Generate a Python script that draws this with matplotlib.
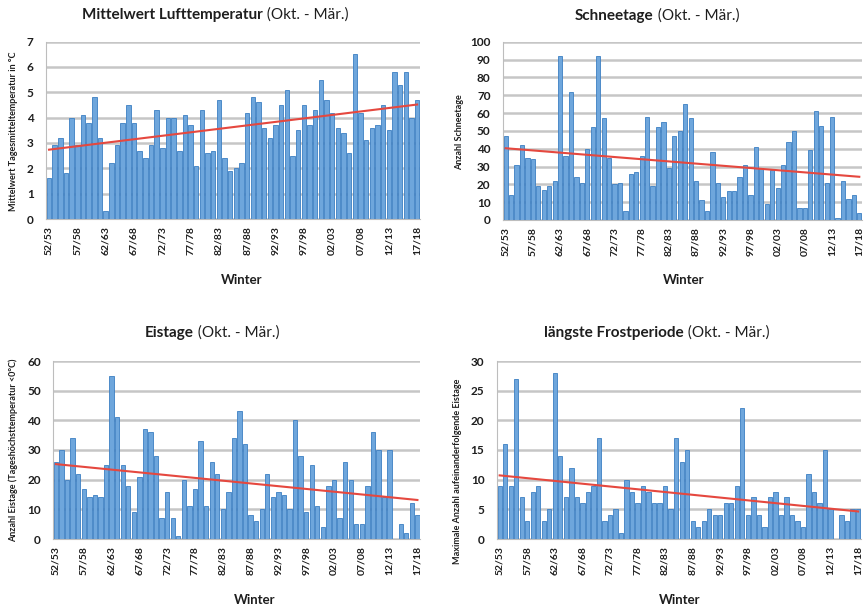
import numpy as np
import matplotlib
matplotlib.use("Agg")
import matplotlib.pyplot as plt

plt.rcParams["font.family"] = ["Lato", "DejaVu Sans"]

# Winter 52/53 ... 17/18
start_years = list(range(1952, 2018))
winters = [f"{y % 100:02d}/{(y + 1) % 100:02d}" for y in start_years]

# Mittelwert Lufttemperatur (Okt. - Mär.) in °C
temp = [1.6, 2.9, 3.2, 1.8, 4.0, 2.9, 4.1, 3.8, 4.8, 3.2,
        0.3, 2.2, 2.9, 3.8, 4.5, 3.8, 2.7, 2.4, 2.9, 4.3,
        2.8, 4.0, 4.0, 2.7, 4.1, 3.7, 2.1, 4.3, 2.6, 2.7,
        4.7, 2.4, 1.9, 2.0, 2.2, 4.2, 4.8, 4.6, 3.6, 3.2,
        3.7, 4.5, 5.1, 2.5, 3.5, 4.5, 3.7, 4.3, 5.5, 4.7,
        4.2, 3.6, 3.4, 2.6, 6.5, 4.2, 3.1, 3.6, 3.7, 4.5,
        3.5, 5.8, 5.3, 5.8, 4.0, 4.7]

# Schneetage (Okt. - Mär.)
schnee = [47, 14, 31, 42, 35, 34, 19, 17, 19, 22,
          92, 36, 72, 24, 21, 40, 52, 92, 57, 35,
          20, 21, 5, 26, 27, 36, 58, 19, 52, 55,
          29, 47, 50, 65, 57, 22, 11, 5, 38, 21,
          13, 16, 16, 24, 31, 14, 41, 29, 9, 28,
          18, 31, 44, 50, 7, 7, 39, 61, 53, 21,
          58, 1, 22, 12, 14, 4]

# Eistage (Okt. - Mär.)
eis = [26, 30, 20, 34, 22, 17, 14, 15, 14, 25,
       55, 41, 25, 18, 9, 21, 37, 36, 28, 7,
       16, 7, 1, 20, 11, 17, 33, 11, 26, 22,
       10, 16, 34, 43, 32, 8, 6, 10, 22, 14,
       16, 15, 10, 40, 28, 9, 25, 11, 4, 18,
       20, 7, 26, 20, 5, 5, 18, 36, 30, 14,
       30, 0, 5, 2, 12, 8]

# längste Frostperiode (Okt. - Mär.)
frost = [9, 16, 9, 27, 7, 3, 8, 9, 3, 5,
         28, 14, 7, 12, 7, 6, 8, 9, 17, 3,
         4, 5, 1, 10, 8, 6, 9, 8, 6, 6,
         9, 5, 17, 13, 15, 3, 2, 3, 5, 4,
         4, 6, 6, 9, 22, 4, 7, 4, 2, 7,
         8, 4, 7, 4, 3, 2, 11, 8, 6, 15,
         5, 0, 4, 3, 5, 5]

W, H = 866, 606
BAR = "#6ea6dc"
EDGE = "#3c7fc2"
GRID = "#c6c6c6"
TREND = "#e5483f"
TXT = "#1e1e1e"

fig = plt.figure(figsize=(W / 100, H / 100), dpi=100)
renderer = fig.canvas.get_renderer()


def px(x, y):
    return x / W, 1 - y / H


def mixed_title(xc, yc, bold, rest, size=11):
    t1 = fig.text(0, 0, bold, weight="bold", size=size, va="center", color=TXT)
    t2 = fig.text(0, 0, " " + rest, size=size, va="center", color=TXT)
    w1 = t1.get_window_extent(renderer).width
    w2 = t2.get_window_extent(renderer).width
    x0 = xc - (w1 + w2) / 2
    t1.set_position(px(x0, yc))
    t2.set_position(px(x0 + w1, yc))


def panel(rect, vals, ymax, ystep, ylabel, ylab_xy, winter_xy):
    ax = fig.add_axes(rect)
    x = np.arange(len(vals))
    ax.bar(x, vals, width=0.78, color=BAR, edgecolor=EDGE, linewidth=0.6, zorder=2)
    # lineare Trendlinie
    k, d = np.polyfit(x, vals, 1)
    ax.plot([x[0], x[-1]], [k * x[0] + d, k * x[-1] + d], color=TREND, lw=1.5, zorder=3)
    ax.set_xlim(-0.5, len(vals) - 0.5)
    ax.set_ylim(0, ymax)
    ax.set_yticks(np.arange(0, ymax + ystep / 2, ystep))
    ax.yaxis.grid(True, color=GRID, lw=1.8, zorder=0)
    ax.set_axisbelow(True)
    ax.set_xticks(x[::5])
    ax.set_xticklabels(winters[::5], rotation=90, fontsize=7.5, weight="bold", color=TXT)
    ax.tick_params(axis="x", length=0, pad=5)
    ax.tick_params(axis="y", length=0, pad=9, labelsize=8.5, labelcolor=TXT)
    for lab in ax.get_yticklabels():
        lab.set_weight("bold")
    for s in ["top", "right"]:
        ax.spines[s].set_visible(False)
    ax.spines["left"].set_color("#bdbdbd")
    ax.spines["bottom"].set_color("#bdbdbd")
    fig.text(*px(*ylab_xy), ylabel, rotation=90, ha="center", va="center",
             fontsize=6.5, weight="bold", color=TXT)
    fig.text(*px(*winter_xy), "Winter", ha="center", va="center",
             fontsize=9.5, weight="bold", color=TXT)
    return ax


panel([46.2 / W, 387 / H, 373.8 / W, 177.5 / H], temp, 7, 1,
      "Mittelwert Tagesmitteltemperatur in °C", (14, 131), (242, 280))
mixed_title(215, 15, "Mittelwert Lufttemperatur", "(Okt. - Mär.)")

panel([503 / W, 386 / H, 359 / W, 178.3 / H], schnee, 100, 10,
      "Anzahl Schneetage", (460, 132), (684, 280))
mixed_title(657, 16, "Schneetage", "(Okt. - Mär.)")

panel([53.2 / W, 67 / H, 367 / W, 178 / H], eis, 60, 10,
      "Anzahl Eistage (Tageshöchsttemperatur <0°C)", (13, 450), (255, 600))
mixed_title(212, 333, "Eistage", "(Okt. - Mär.)")

panel([496.9 / W, 67 / H, 364 / W, 178 / H], frost, 30, 5,
      "Maximale Anzahl aufeinanderfolgende Eistage", (458, 471), (680, 600))
mixed_title(657, 333, "längste Frostperiode", "(Okt. - Mär.)")

fig.savefig("out.png", dpi=100)
